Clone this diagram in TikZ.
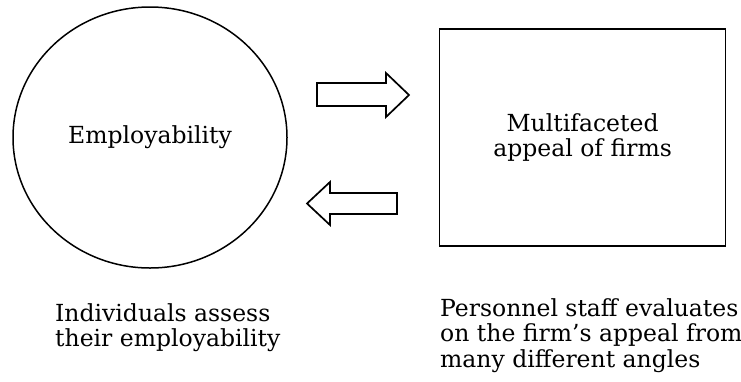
\documentclass[tikz,border=0pt]{standalone}
\usepackage{fontspec}
\setmainfont{DejaVu Serif}
\usetikzlibrary{positioning, shapes.geometric}

\begin{document}
\begin{tikzpicture}[
    x=1pt, y=-1pt,
    node distance=151pt,
    ovalnode/.style={
        ellipse, draw, line width=1.5pt, inner sep=0pt,
        minimum width=274pt, minimum height=261pt, align=center
    },
    boxnode/.style={
        rectangle, draw, line width=1.7pt, inner sep=0pt,
        minimum width=286pt, minimum height=217pt, align=center
    },
    capt/.style={anchor=north west, align=left, inner sep=0pt},
    blockarr/.style={draw, line width=1.7pt, line join=miter, fill=white},
    every node/.style={font=\fontsize{23.5}{25.5}\selectfont}
]
\useasboundingbox (0,0) rectangle (741,381);

\node[ovalnode] (emp) at (150,137.5) {Employability};
\node[boxnode, right=151pt of emp] (appeal) {Multifaceted\\appeal of firms};

% the two block arrows between them
\draw[blockarr] (317,83) -- (386,83) -- (386,73) -- (409,95)
    -- (386,117) -- (386,106) -- (317,106) -- cycle;
\draw[blockarr] (397,193) -- (330,193) -- (330,182) -- (307,203.5)
    -- (330,225) -- (330,214) -- (397,214) -- cycle;

% captions
\node[capt] (empnote) at (55,303) {Individuals assess\\their employability};
\node[capt] (appealnote) at (440,298) {Personnel staff evaluates\\on the firm's appeal from\\many different angles};

\end{tikzpicture}
\end{document}
